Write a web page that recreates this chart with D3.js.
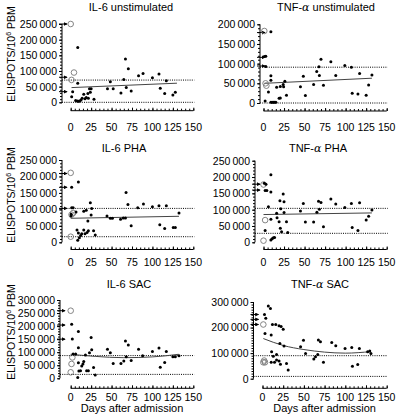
<!DOCTYPE html>
<html><head><meta charset="utf-8">
<script src="https://cdn.jsdelivr.net/npm/d3@7"></script>
<style>body{margin:0;background:#fff}svg{display:block;font-family:"Liberation Sans",Arial,sans-serif}</style>
</head><body><svg id="c" width="400" height="420"></svg>
<script>
// ---------- data ----------
const xTicks = [0,25,50,75,100,125,150];
const yTicks250 = [0,50000,100000,150000,200000,250000];
const yTicks200 = [0,50000,100000,150000,200000];
const yTicks300 = [0,50000,100000,150000,200000,250000,300000];
const yTicks300b = [0,100000,200000,300000];

const il6Unstim = [[8.6,175000],[8.6,61000],[2.4,34000],[1.2,18000],[6,6000],[8,4000],[9.4,3000],[11,4000],[12.6,7000],[14,13000],[16,26000],[17.5,11000],[19,15000],[21,28000],[21.6,13000],[24,32000],[25,43000],[23,43000],[28.5,10000],[45,43000],[48.5,66000],[52,43000],[61.5,30000],[65,72600],[67,138000],[68,47000],[70.5,107000],[74,36000],[83,85000],[88.5,92000],[100,78000],[108,90000],[109.6,45000],[115,28000],[117,69000],[125,23000],[128,32000]];
const il6UnstimOpen = [[0,250000],[4,95000],[1,71500]];
const il6UnstimArrows = [250000,80000,34000];
const il6UnstimFit = [[1,47000],[130,61000]];
const il6UnstimRefs = [71000,0];

const tnfUnstim = [[9,181000],[1,118000],[2.8,119000],[2.8,93000],[9,69000],[9,58000],[6,28000],[2,5000],[9,2000],[10.5,2000],[12,2000],[13.5,2000],[15,2000],[19,12000],[20.5,13000],[16,40000],[20.5,42000],[24,47000],[26,55000],[24.5,41000],[28,20000],[45,41000],[48.5,68000],[51,19000],[61,47000],[64.8,80000],[67.5,92000],[68,70000],[70,111000],[73,45000],[82,105000],[88,70000],[99,95000],[107,91000],[108,25000],[115,23000],[117,75000],[125,20000],[128,46000],[132,71000]];
const tnfUnstimOpen = [[1,183000],[2.5,50000],[3.5,44000]];
const tnfUnstimArrows = [179000,116000,94000];
const tnfUnstimFit = [[1,50000],[132,63000]];
const tnfUnstimRefs = [91000,0];

const il6Pha = [[1.2,167000],[9.4,183000],[1.2,105000],[3,105000],[0.4,80000],[0.6,85000],[6.5,92000],[7.7,37000],[9.4,28000],[8.6,6000],[10.6,14000],[12.2,21000],[13.5,26000],[16,37000],[17.5,26000],[20,30000],[21.6,35000],[28,35000],[30,22000],[16,94000],[19,97000],[21,65000],[24,120000],[25,83000],[25.7,103000],[44.4,80000],[48.5,73000],[51,73000],[61,70000],[64.4,74000],[67,74000],[67.7,151000],[70,115000],[74,50000],[82,105000],[89,116000],[100,108000],[108,111000],[109,53000],[115,42000],[117,111000],[125.5,45000],[128,45000],[132.5,89000]];
const il6PhaOpen = [[0,211000],[3,89000],[1,84000],[0,17000]];
const il6PhaArrows = [209000,167000,103000];
const il6PhaFit = [[0,73000],[132.5,79000]];
const il6PhaRefs = [103000,17000];

const tnfPha = [[1,181000],[3,178000],[2,159000],[4,159000],[9,207000],[9,154000],[6,109000],[9,71000],[2,36000],[9,7000],[10.5,11000],[12,14000],[13.5,15000],[16,89000],[16.5,75000],[19,63000],[20.5,43000],[22,32000],[21,103000],[20,127000],[25,124000],[24,148000],[25,91000],[28,63000],[29.5,30000],[45,96000],[48.5,119000],[51,62000],[61,62000],[65,92000],[67,126000],[68,101000],[70,122000],[73,48000],[82,133000],[88,117000],[99,107000],[107,119000],[108,45000],[115,36000],[117,121000],[125,68000],[128,80000],[132,99000]];
const tnfPhaOpen = [[0,177000],[2,68000],[0,5000]];
const tnfPhaArrows = [178000,160000];
const tnfPhaFit = [[0,85000],[132,90000]];
const tnfPhaRefs = [104000,27500];

const il6Sac = [[1.2,207000],[2,151000],[3,93000],[6,93000],[9.4,179000],[9.4,117000],[9.4,60000],[10,28000],[12,29000],[8.6,3000],[13.5,47000],[15,55000],[16,64000],[18,89000],[19.5,29000],[21.6,29000],[23,98000],[25,156000],[25.7,109000],[28,41000],[30,13000],[45,111000],[48.5,98000],[52,57000],[61.5,57000],[65,66000],[67,143000],[68,83000],[70.5,128000],[74,68000],[83,111000],[88,86000],[100,103000],[108,116000],[109.6,42000],[115,61000],[117,103000],[125,83000],[128,83000],[132.5,86000]];
const il6SacOpen = [[0,259000],[2,80000],[1,55000],[0,23000]];
const il6SacArrows = [259000,204000,150000];
const il6SacFit = [[0,92000],[30,84000],[65,79000],[100,82000],[132,92000]];
const il6SacRefs = [87000,15000];

const tnfSac = [[2.4,251000],[4,236000],[7,284000],[9.6,275000],[12,212000],[3,177000],[10.5,171000],[16,212000],[20,207000],[22.5,204000],[25,193000],[11,105000],[13,88000],[17,95000],[10.5,64000],[14.5,64000],[17,73000],[20,69000],[21.7,57000],[29,59000],[31,34000],[21,138000],[26,128000],[46,125000],[49.5,150000],[52,99000],[62,77000],[64,86000],[67.5,151000],[66.7,95000],[70,145000],[73.6,64000],[83.6,142000],[88.5,129000],[99.7,118000],[107.8,122000],[108.6,49000],[115,56000],[117,118000],[127,105000],[129.5,108000],[131,99000]];
const tnfSacOpen = [[1,212000],[1,64000],[3,64000],[2,71000]];
const tnfSacArrows = [251000,232000,212000];
const tnfSacFit = [[1,157000],[25,130000],[50,114000],[75,104000],[100,100000],[131,106000]];
const tnfSacRefs = [90000,9000];

// ---------- layout ----------
const panels = [
 {t1:"IL-6", t2:" unstimulated", greek:false, tx:131, ty:11, filled:il6Unstim, open:il6UnstimOpen, arrows:il6UnstimArrows, fit:il6UnstimFit, refs:il6UnstimRefs, yt:yTicks250, yMax:250000,
  ax:62, x0:70.7, x1:193.3, yTop:24, yBot:102.3, xAxY:110.7, xLabY:130.5, ylab:54, xTitle:false},
 {t1:"TNF-", t2:" unstimulated", greek:true, tx:326, ty:11, filled:tnfUnstim, open:tnfUnstimOpen, arrows:tnfUnstimArrows, fit:tnfUnstimFit, refs:tnfUnstimRefs, yt:yTicks200, yMax:200000,
  ax:260, x0:263.5, x1:386.7, yTop:24.3, yBot:103, xAxY:111, xLabY:130.5, ylab:null, xTitle:false},
 {t1:"IL-6", t2:" PHA", greek:false, tx:124, ty:151.5, filled:il6Pha, open:il6PhaOpen, arrows:il6PhaArrows, fit:il6PhaFit, refs:il6PhaRefs, yt:yTicks250, yMax:250000,
  ax:62, x0:70.7, x1:193.3, yTop:160, yBot:242.3, xAxY:249.5, xLabY:265.5, ylab:195, xTitle:false},
 {t1:"TNF-", t2:" PHA", greek:true, tx:318, ty:151.5, filled:tnfPha, open:tnfPhaOpen, arrows:tnfPhaArrows, fit:tnfPhaFit, refs:tnfPhaRefs, yt:yTicks250, yMax:250000,
  ax:255, x0:263.5, x1:386.7, yTop:160.7, yBot:242.3, xAxY:249.5, xLabY:265.5, ylab:null, xTitle:false},
 {t1:"IL-6", t2:" SAC", greek:false, tx:129, ty:288, filled:il6Sac, open:il6SacOpen, arrows:il6SacArrows, fit:il6SacFit, refs:il6SacRefs, yt:yTicks300, yMax:300000,
  ax:60, x0:70.7, x1:193.3, yTop:300, yBot:378.3, xAxY:388.3, xLabY:400.5, ylab:332, xTitle:true},
 {t1:"TNF-", t2:" SAC", greek:true, tx:320, ty:288, filled:tnfSac, open:tnfSacOpen, arrows:tnfSacArrows, fit:tnfSacFit, refs:tnfSacRefs, yt:yTicks300b, yMax:300000,
  ax:253.5, x0:262.5, x1:386.7, yTop:302, yBot:378.7, xAxY:388.3, xLabY:400.5, ylab:null, xTitle:true}
];

const svg = d3.select("#c");
svg.append("defs").append("marker").attr("id","ah").attr("viewBox","0 0 6 6").attr("refX",5).attr("refY",3)
  .attr("markerWidth",4).attr("markerHeight",4).attr("orient","auto")
  .append("path").attr("d","M0,0L6,3L0,6Z").attr("fill","#000");

const fmt = v => v===0 ? "0" : d3.format("d")(v).replace(/(\d)(\d{3})$/,"$1\u2009$2");

panels.forEach(p => {
  const g = svg.append("g");
  const x = d3.scaleLinear().domain([0,150]).range([p.x0,p.x1]);
  const y = d3.scaleLinear().domain([0,p.yMax]).range([p.yBot,p.yTop]);

  // title
  const t = g.append("text").attr("x",p.tx).attr("y",p.ty).attr("text-anchor","middle").attr("font-size",11);
  t.append("tspan").text(p.t1);
  if (p.greek) t.append("tspan").attr("font-style","italic").attr("font-family","'DejaVu Serif',serif").text("\u03b1");
  t.append("tspan").text(p.t2);

  // y axis
  const yAx = d3.axisLeft(y).tickValues(p.yt).tickSize(3).tickPadding(2).tickFormat(fmt);
  const ya = g.append("g").attr("transform",`translate(${p.ax},0)`).call(yAx);
  ya.select(".domain").attr("d",`M0,${p.yBot}V${p.yTop}`).attr("stroke","#000");
  ya.selectAll("text").attr("font-size",10.5).attr("font-family","'Liberation Sans',Arial,sans-serif").attr("fill","#000");
  const minorY = d3.range(0,p.yMax+1,10000);
  g.append("g").attr("transform",`translate(${p.ax},0)`).call(d3.axisLeft(y).tickValues(minorY).tickSize(2).tickFormat(""))
    .call(s=>s.select(".domain").remove());

  // x axis (detached)
  const xa = g.append("g").attr("transform",`translate(0,${p.xAxY})`)
    .call(d3.axisTop(x).tickValues(d3.range(0,151,5)).tickSize(2).tickFormat(""));
  xa.select(".domain").attr("d",`M${p.x0},0H${p.x1}`);
  g.append("g").attr("transform",`translate(0,${p.xAxY})`).call(d3.axisTop(x).tickValues(xTicks).tickSize(3).tickFormat(""))
    .call(s=>s.select(".domain").remove());
  g.selectAll(".lab").data(xTicks).enter().append("text")
    .attr("x",d=>x(d)).attr("y",p.xLabY).attr("text-anchor","middle").attr("font-size",10.5).text(d=>d);

  // reference dotted lines
  g.selectAll(".ref").data(p.refs).enter().append("line")
    .attr("x1",p.ax).attr("x2",x(150)+1).attr("y1",d=>y(d)).attr("y2",d=>y(d))
    .attr("stroke","#000").attr("stroke-width",1).attr("stroke-dasharray","1,1.2");

  // fit line
  g.append("path").datum(p.fit).attr("fill","none").attr("stroke","#444").attr("stroke-width",1)
    .attr("d",d3.line().x(d=>x(d[0])).y(d=>y(d[1])).curve(d3.curveMonotoneX));

  // arrows
  g.selectAll(".arr").data(p.arrows).enter().append("line")
    .attr("x1",p.ax-3).attr("x2",p.ax+5).attr("y1",d=>y(d)).attr("y2",d=>y(d))
    .attr("stroke","#000").attr("stroke-width",1).attr("marker-end","url(#ah)");

  // open circles
  g.selectAll(".oc").data(p.open).enter().append("circle")
    .attr("cx",d=>x(d[0])).attr("cy",d=>y(d[1])).attr("r",2.8)
    .attr("fill","none").attr("stroke","#777").attr("stroke-width",0.9);

  // filled points
  g.selectAll(".fp").data(p.filled).enter().append("circle")
    .attr("cx",d=>x(d[0])).attr("cy",d=>y(d[1])).attr("r",1.5).attr("fill","#000");

  // y label
  if (p.ylab !== null) {
    const yl = g.append("text").attr("transform",`translate(15,${p.ylab}) rotate(-90)`)
      .attr("text-anchor","middle").attr("font-size",10.5);
    yl.append("tspan").text("ELISPOTS/10");
    yl.append("tspan").attr("font-size",7).attr("dy",-4).text("6");
    yl.append("tspan").attr("dy",4).text(" PBM");
  }
  if (p.xTitle) {
    g.append("text").attr("x",(p.x0+p.x1)/2).attr("y",411.5).attr("text-anchor","middle").attr("font-size",11)
      .text("Days after admission");
  }
});
</script></body></html>
